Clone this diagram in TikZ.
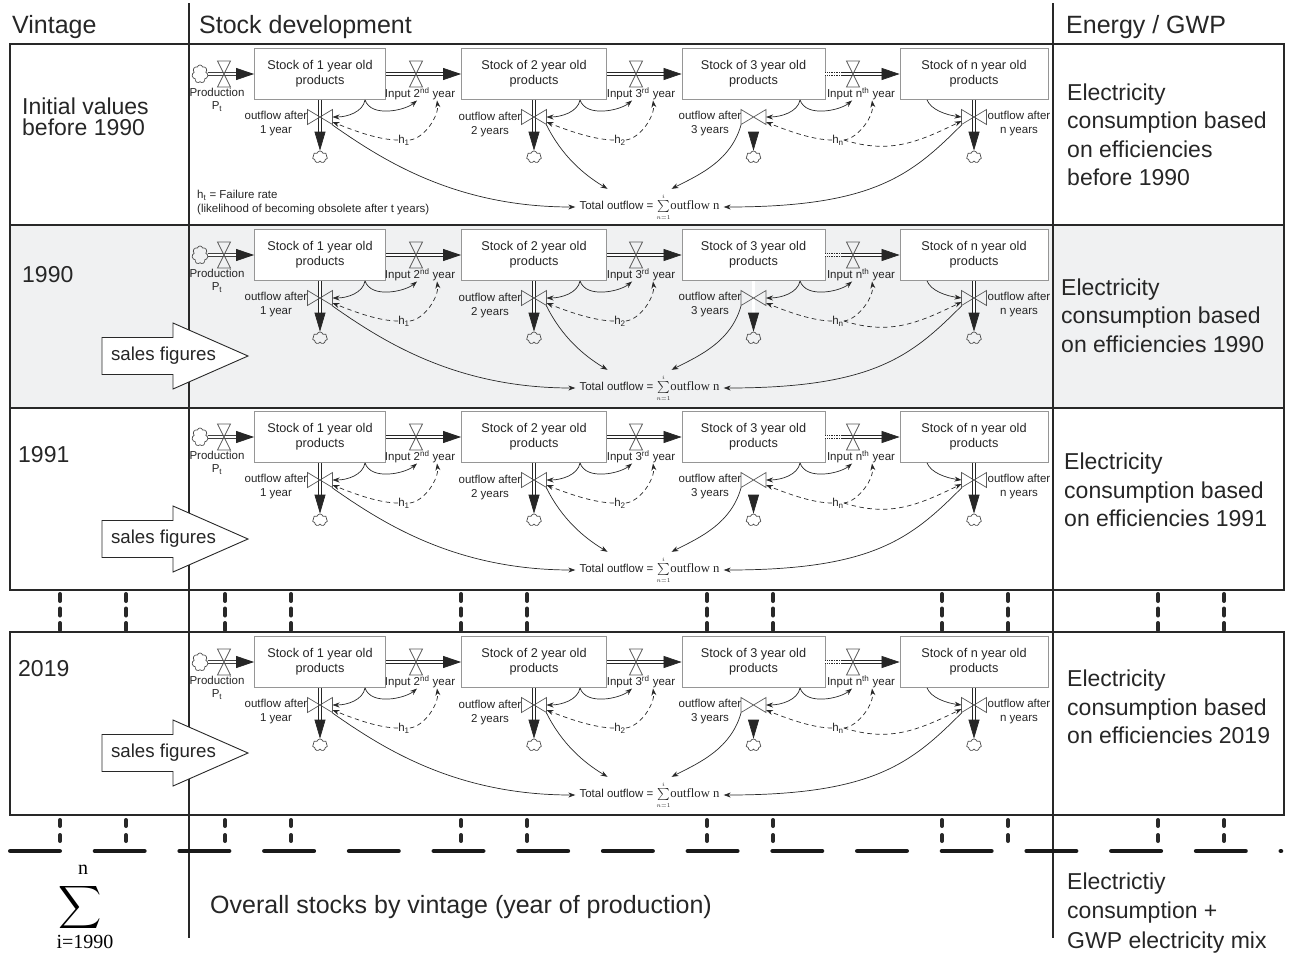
\documentclass[tikz,border=0pt]{standalone}
\usepackage{fontspec}
\setmainfont{Liberation Sans}
\newfontfamily\timesfont{Liberation Serif}
\usepackage{amsmath}
\usetikzlibrary{arrows.meta, shapes.symbols}

\definecolor{linegray}{RGB}{40, 40, 40}
\definecolor{boxgray}{RGB}{150, 150, 150}
\definecolor{rowgray}{RGB}{240, 241, 242}

\tikzset{
  frame/.style={draw=linegray, line width=1.1},
  stockbox/.style={draw=boxgray, fill=white, line width=0.8, minimum height=51, inner sep=0,
    align=center, text=black!85, font=\fontsize{12.7}{15}\selectfont},
  lbl/.style={font=\fontsize{11.5}{13.5}\selectfont, align=center, inner sep=0, text=black!85},
  valvev/.style={inner sep=0, outer sep=0, minimum width=13, minimum height=26},
  valveh/.style={inner sep=0, outer sep=0, minimum width=25, minimum height=15},
  valveline/.style={draw=black!65, line width=0.7},
  sky/.style={cloud, cloud puffs=7, aspect=1.3, draw=black!70, line width=0.7, inner sep=0,
    minimum width=15, minimum height=12},
  pipe/.style={draw=black!85, double=white, double distance=2.2, line width=0.7,
    -{Triangle[length=18pt, width=12pt]}},
  drain/.style={pipe, -{Triangle[length=19pt, width=11pt]}},
  infolink/.style={draw=linegray, line width=0.7, -{Stealth[length=7pt, width=5pt]}},
  hazard/.style={infolink, dash pattern=on 4.5 off 3.5},
  coltext/.style={font=\fontsize{23}{28.5}\selectfont, align=left, anchor=west, inner sep=0, text=black!85},
  head/.style={font=\fontsize{25}{28}\selectfont, anchor=base west, inner sep=0, text=black!85},
  salesarrow/.style={draw=linegray, line width=0.9, fill=white, line join=miter},
  salestext/.style={font=\fontsize{18.7}{20}\selectfont, inner sep=0, text=black!85},
  dotcol/.style={line width=4, line cap=round, draw=linegray},
}

\begin{document}
\begin{tikzpicture}[x=1pt, y=-1pt]
  \useasboundingbox (0,0) rectangle (1293,956);

  % Table
  \fill[rowgray] (10,225) rectangle (1284,408);
  \draw[frame] (10,44) rectangle (1284,590);
  \draw[frame] (10,225) -- (1284,225) (10,408) -- (1284,408);
  \draw[frame] (10,632) rectangle (1284,815);
  \draw[frame] (189,3) -- (189,938) (1053,3) -- (1053,938);

  % Headers
  \node[head] (hvint) at (12,33) {Vintage};
  \node[head] (hstock) at (199,33) {Stock development};
  \node[head] (henergy) at (1066,33) {Energy / GWP};

  % Vintage column
  \node[coltext, font=\fontsize{23}{21}\selectfont] (vinit) at (22,117) {Initial values\\before 1990};
  \node[coltext] (v1990) at (22,275) {1990};
  \node[coltext] (v1991) at (18,455) {1991};
  \node[coltext] (v2019) at (18,669) {2019};

  % Energy column
  \node[coltext] (e0) at (1067,135) {Electricity\\consumption based\\on efficiencies\\before 1990};
  \node[coltext] (e1990) at (1061,315.5) {Electricity\\consumption based\\on efficiencies 1990};
  \node[coltext] (e1991) at (1064,490) {Electricity\\consumption based\\on efficiencies 1991};
  \node[coltext] (e2019) at (1067,707) {Electricity\\consumption based\\on efficiencies 2019};

  % Stock development per vintage
  \foreach \dy in {0,181,363,588} {
  \begin{scope}[shift={(0,\dy)}]
    % Stocks
    \node[stockbox, minimum width=131] (s1) at (320,74) {Stock of 1 year old\\products};
    \node[stockbox, minimum width=145] (s2) at (534,74) {Stock of 2 year old\\products};
    \node[stockbox, minimum width=143] (s3) at (753.5,74) {Stock of 3 year old\\products};
    \node[stockbox, minimum width=148] (sn) at (974,74) {Stock of n year old\\products};

    % Valves
    \node[valvev] (vp) at (224,74) {};
    \node[valvev] (v2) at (416,74) {};
    \node[valvev] (v3) at (636,74) {};
    \node[valvev] (vn) at (853,74) {};
    \node[valveh] (o1) at (320,117) {};
    \node[valveh] (o2) at (534,117) {};
    \node[valveh] (o3) at (753.5,117) {};
    \node[valveh] (on) at (974,117) {};
    \coordinate (gap) at (841,74);

    % Clouds
    \node[sky, minimum width=16, minimum height=18] (src) at (200,74) {};
    \node[sky] (c1) at (320,157) {};
    \node[sky] (c2) at (534,157) {};
    \node[sky] (c3) at (753.5,157) {};
    \node[sky] (cn) at (974,157) {};

    % Flows
    \draw[pipe] (src) -- (s1);
    \draw[pipe] (s1) -- (s2);
    \draw[pipe] (s2) -- (s3);
    \draw[pipe, -, densely dotted] (s3) -- (gap);
    \draw[pipe] (gap) -- (sn);
    \draw[drain] (s1) -- (c1);
    \draw[drain] (s2) -- (c2);
    \draw[drain] (s3) -- (c3);
    \draw[drain] (sn) -- (cn);
    \foreach \vv in {vp,v2,v3,vn}
      \draw[valveline] (\vv.north west) -- (\vv.north east) -- (\vv.south west) -- (\vv.south east) -- cycle;
    \foreach \vv in {o1,o2,o3,on}
      \draw[valveline] (\vv.north west) -- (\vv.south west) -- (\vv.north east) -- (\vv.south east) -- cycle;

    % Labels
    \node[lbl] (lp) at (217,100) {Production\\P\textsubscript{t}};
    \node[lbl] (l2) at (420,94) {Input 2\textsuperscript{nd} year};
    \node[lbl] (l3) at (641,94) {Input 3\textsuperscript{rd} year};
    \node[lbl] (ln) at (861,94) {Input n\textsuperscript{th} year};
    \node[lbl] (lo1) at (276,123.5) {outflow after\\1 year};
    \node[lbl] (lo2) at (490,124.5) {outflow after\\2 years};
    \node[lbl] (lo3) at (710,123.5) {outflow after\\3 years};
    \node[lbl] (lon) at (1019,123.5) {outflow after\\n years};
    \node[lbl] (h1) at (404,140) {h\textsubscript{1}};
    \node[lbl] (h2) at (620,140) {h\textsubscript{2}};
    \node[lbl] (hn) at (838,140) {h\textsubscript{n}};
    \node[lbl, inner sep=4] (tot) at (649.5,207) {Total outflow = $\sum\limits_{\scriptscriptstyle n=1}^{\scriptscriptstyle i}${\timesfont\fontsize{12.7}{14}\selectfont outflow n}};

    % Information links
    \draw[infolink] ([xshift=45]s1.south) .. controls +(-2,12) and +(15,0) .. (o1.east);
    \draw[infolink] ([xshift=45]s1.south) .. controls +(6,18) and +(-12,10) .. ([xshift=-3]l2.south);
    \draw[hazard] (h1.west) .. controls +(-20,0) and +(20,8) .. ([yshift=-5]o1.east);
    \draw[hazard] (h1.east) .. controls +(15,-2) and +(2,15) .. ([xshift=17]l2.south);
    \draw[infolink] ([xshift=46]s2.south) .. controls +(-2,12) and +(15,0) .. (o2.east);
    \draw[infolink] ([xshift=46]s2.south) .. controls +(6,18) and +(-12,10) .. ([xshift=-9]l3.south);
    \draw[hazard] (h2.west) .. controls +(-20,0) and +(20,8) .. ([yshift=-5]o2.east);
    \draw[hazard] (h2.east) .. controls +(15,-2) and +(2,15) .. ([xshift=12]l3.south);
    \draw[infolink] ([xshift=46.5]s3.south) .. controls +(-2,12) and +(15,0) .. (o3.east);
    \draw[infolink] ([xshift=46.5]s3.south) .. controls +(6,18) and +(-12,10) .. ([xshift=-9]ln.south);
    \draw[hazard] (hn.west) .. controls +(-20,0) and +(20,8) .. ([yshift=-5]o3.east);
    \draw[hazard] (hn.east) .. controls +(15,-2) and +(2,15) .. ([xshift=11]ln.south);
    \draw[hazard] (hn.east) .. controls +(45,14) and +(-45,22) .. ([yshift=-4]on.west);
    \draw[infolink] ([xshift=-47]sn.south) .. controls +(4,10) and +(-15,-2) .. (on.west);

    % Total outflow
    \draw[infolink] ([yshift=-8]o1.east) .. controls +(50,35) and +(-120,0) .. (tot.west);
    \draw[infolink] ([yshift=-8]o2.east) .. controls +(15,30) and +(-25,-15) .. ([xshift=-42]tot.north);
    \draw[infolink] ([yshift=-8]o3.west) .. controls +(-10,35) and +(30,-15) .. ([xshift=22]tot.north);
    \draw[infolink] ([yshift=-8]on.west) .. controls +(-50,50) and +(150,0) .. (tot.east);
  \end{scope}
  }

  % Failure rate note
  \node[lbl, anchor=west, align=left, font=\fontsize{11.5}{14}\selectfont] (fail) at (197,203)
    {h\textsubscript{t} = Failure rate\\(likelihood of becoming obsolete after t years)};

  % Sales figures
  \foreach \yy/\nm in {356/sa,539/sb,753/sc} {
    \draw[salesarrow] (102,\yy-18.5) -- (173,\yy-18.5) -- (173,\yy-33) -- (248,\yy)
      -- (173,\yy+33) -- (173,\yy+18.5) -- (102,\yy+18.5) -- cycle;
    \node[salestext] (\nm) at (163.5,\yy) {sales figures};
  }

  % Continuation marks
  \foreach \x in {60,126,225,291,461,527,707,773,942,1008,1158,1224} {
    \draw[dotcol, dash pattern=on 7 off 7.5] (\x,594) -- (\x,630);
    \draw[dotcol, dash pattern=on 6 off 9] (\x,820) -- (\x,841);
  }
  \draw[line width=4.5, line cap=round, draw=black!90, dash pattern=on 49.5 off 35.2] (10.25,851) -- (1281,851);

  % Sum over vintages
  \node[font={\timesfont\fontsize{20}{22}\selectfont}, inner sep=0] (supn) at (83,870) {n};
  \node[scale=3.0, inner sep=0] (bigsum) at (80,907) {$\displaystyle\sum$};
  \node[font={\timesfont\fontsize{20}{22}\selectfont}, inner sep=0] (subi) at (85,942) {i=1990};
  \node[head, anchor=west] (overall) at (210,907) {Overall stocks by vintage (year of production)};
  \node[coltext, font=\fontsize{23}{29.5}\selectfont] (gwp) at (1067,913) {Electrictiy\\consumption +\\GWP electricity mix};
\end{tikzpicture}
\end{document}
